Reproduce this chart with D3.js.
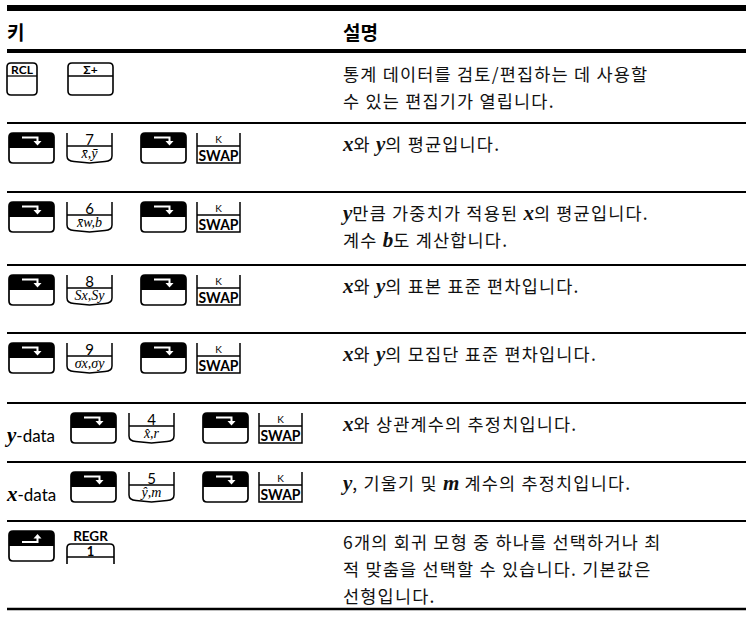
<!DOCTYPE html>
<html>
<head>
<meta charset="utf-8">
<script src="https://cdn.jsdelivr.net/npm/d3@7"></script>
<style>
  html, body { margin: 0; padding: 0; background: #fff; }
  svg { display: block; }
</style>
</head>
<body>
<div id="chart"></div>
<script>
// ---------------- DATA ----------------
const headers = ["키", "설명"];
const rowPrefixes = ["", "", "", "", "", "y-data", "x-data", ""];
const rowKeys = [
  ["RCL", "Σ+"],
  ["shift-right", "7", "shift-right", "SWAP"],
  ["shift-right", "6", "shift-right", "SWAP"],
  ["shift-right", "8", "shift-right", "SWAP"],
  ["shift-right", "9", "shift-right", "SWAP"],
  ["shift-right", "4", "shift-right", "SWAP"],
  ["shift-right", "5", "shift-right", "SWAP"],
  ["shift-left", "REGR"]
];
const numberKeyFunctions = {
  "7": "x̄,ȳ",
  "6": "x̄w,b",
  "8": "Sx,Sy",
  "9": "σx,σy",
  "4": "x̂,r",
  "5": "ŷ,m"
};
const descriptions = [
  ["통계 데이터를 검토/편집하는 데 사용할", "수 있는 편집기가 열립니다."],
  ["*x*와 *y*의 평균입니다."],
  ["*y*만큼 가중치가 적용된 *x*의 평균입니다.", "계수 *b*도 계산합니다."],
  ["*x*와 *y*의 표본 표준 편차입니다."],
  ["*x*와 *y*의 모집단 표준 편차입니다."],
  ["*x*와 상관계수의 추정치입니다."],
  ["*y*, 기울기 및 *m* 계수의 추정치입니다."],
  ["6개의 회귀 모형 중 하나를 선택하거나 최", "적 맞춤을 선택할 수 있습니다. 기본값은", "선형입니다."]
];

// ---------------- LAYOUT ----------------
const W = 746, H = 621;
const left = 7, right = 746, descX = 343;
const rowTops = [53, 123, 192, 265, 333, 403, 462, 521];
const tableBottom = 609;
const lineHeight = 27;
const korFont = "'Noto Sans CJK KR', 'Noto Sans', sans-serif";
const keyFont = "Lato, 'Noto Sans', sans-serif";
const serifFont = "'Liberation Serif', 'DejaVu Serif', serif";

const svg = d3.select("#chart").append("svg")
  .attr("width", W).attr("height", H)
  .attr("viewBox", `0 0 ${W} ${H}`);
svg.append("rect").attr("width", W).attr("height", H).attr("fill", "#fff");

// rules
svg.append("rect").attr("x", left).attr("y", 5).attr("width", right - left).attr("height", 6).attr("fill", "#000");
svg.append("rect").attr("x", left).attr("y", 49).attr("width", right - left).attr("height", 4).attr("fill", "#000");

// header
svg.selectAll("text.header").data(headers).join("text")
  .attr("class", "header")
  .attr("x", (d, i) => i === 0 ? left : descX)
  .attr("y", 40)
  .attr("font-family", korFont)
  .attr("font-weight", "bold")
  .attr("font-size", 19)
  .text(d => d);

// separators
const sepYs = rowTops.slice(1).concat([tableBottom]);
svg.selectAll("line.sep").data(sepYs).join("line")
  .attr("class", "sep")
  .attr("x1", left).attr("x2", right)
  .attr("y1", d => d).attr("y2", d => d)
  .attr("stroke", "#000")
  .attr("stroke-width", (d, i) => i === sepYs.length - 1 ? 2.5 : 2);

// descriptions
descriptions.forEach((lines, r) => {
  lines.forEach((line, li) => {
    const t = svg.append("text")
      .attr("x", descX)
      .attr("y", rowTops[r] + 28 + li * lineHeight)
      .attr("font-family", korFont)
      .attr("font-size", 17.5)
      .attr("letter-spacing", 1.2)
      .attr("fill", "#111");
    line.split("*").forEach((seg, si) => {
      if (!seg) return;
      const ts = t.append("tspan").text(seg);
      if (si % 2 === 1) {
        ts.attr("font-family", serifFont).attr("font-style", "italic")
          .attr("font-weight", "bold").attr("font-size", 21).attr("letter-spacing", 0);
      }
    });
  });
});

// ---------------- KEYS ----------------
function roundedTopPath(x, y, w, h, r) {
  return `M${x},${y + h} V${y + r} Q${x},${y} ${x + r},${y} H${x + w - r} Q${x + w},${y} ${x + w},${y + r} V${y + h} Z`;
}
function roundedRectPath(x, y, w, h, r) {
  return `M${x},${y + r} Q${x},${y} ${x + r},${y} H${x + w - r} Q${x + w},${y} ${x + w},${y + r} V${y + h - r} Q${x + w},${y + h} ${x + w - r},${y + h} H${x + r} Q${x},${y + h} ${x},${y + h - r} Z`;
}

function drawShift(g, x, y, dir) {
  const w = 45, h = 30;
  g.append("path").attr("d", roundedTopPath(x, y, w, 15, 4)).attr("fill", "#000");
  g.append("path").attr("d", roundedRectPath(x, y, w, h, 4))
    .attr("fill", "none").attr("stroke", "#000").attr("stroke-width", 1.7);
  if (dir === "right") {
    g.append("path").attr("d", `M${x + 13},${y + 4.5} H${x + 28.5} V${y + 8.5}`)
      .attr("fill", "none").attr("stroke", "#fff").attr("stroke-width", 2);
    g.append("path").attr("d", `M${x + 24.5},${y + 8} L${x + 32.5},${y + 8} L${x + 28.5},${y + 12.5} Z`).attr("fill", "#fff");
  } else {
    g.append("path").attr("d", `M${x + 13},${y + 11} H${x + 28.5} V${y + 7}`)
      .attr("fill", "none").attr("stroke", "#fff").attr("stroke-width", 2);
    g.append("path").attr("d", `M${x + 24.5},${y + 7.5} L${x + 32.5},${y + 7.5} L${x + 28.5},${y + 3} Z`).attr("fill", "#fff");
  }
  return w;
}

function drawNumber(g, x, y, label) {
  const w = 45, h = 30;
  g.append("path")
    .attr("d", `M${x},${y} V${y + h - 7} Q${x},${y + h - 2} ${x + 7},${y + h - 1.5} L${x + w / 2},${y + h} L${x + w - 7},${y + h - 1.5} Q${x + w},${y + h - 2} ${x + w},${y + h - 7} V${y}`)
    .attr("fill", "none").attr("stroke", "#000").attr("stroke-width", 1.5);
  g.append("line").attr("x1", x).attr("x2", x + w).attr("y1", y + 13).attr("y2", y + 13)
    .attr("stroke", "#000").attr("stroke-width", 1.3);
  g.append("text").attr("x", x + w / 2).attr("y", y + 11.5).attr("text-anchor", "middle")
    .attr("font-family", keyFont).attr("font-size", 15).text(label);
  g.append("text").attr("x", x + w / 2).attr("y", y + 25).attr("text-anchor", "middle")
    .attr("font-family", serifFont).attr("font-size", 14).attr("font-style", "italic")
    .text(numberKeyFunctions[label]);
  return w;
}

function drawSwap(g, x, y) {
  const w = 43, h = 30;
  g.append("path").attr("d", `M${x},${y} V${y + h} H${x + w} V${y}`)
    .attr("fill", "none").attr("stroke", "#000").attr("stroke-width", 1.5);
  g.append("line").attr("x1", x).attr("x2", x + w).attr("y1", y + 13).attr("y2", y + 13)
    .attr("stroke", "#000").attr("stroke-width", 1.5);
  g.append("text").attr("x", x + w / 2).attr("y", y + 10).attr("text-anchor", "middle")
    .attr("font-family", keyFont).attr("font-size", 10).text("K");
  g.append("text").attr("x", x + w / 2).attr("y", y + 27.5).attr("text-anchor", "middle")
    .attr("font-family", keyFont).attr("font-weight", "bold").attr("font-size", 15.5)
    .attr("textLength", w - 3).attr("lengthAdjust", "spacingAndGlyphs").text("SWAP");
  return w;
}

function drawBox(g, x, y, label, w) {
  const h = 32;
  g.append("path").attr("d", roundedRectPath(x, y, w, h, 4))
    .attr("fill", "none").attr("stroke", "#000").attr("stroke-width", 1.6);
  g.append("line").attr("x1", x).attr("x2", x + w).attr("y1", y + 13).attr("y2", y + 13)
    .attr("stroke", "#000").attr("stroke-width", 1.3);
  g.append("text").attr("x", x + w / 2).attr("y", y + 11).attr("text-anchor", "middle")
    .attr("font-family", keyFont).attr("font-weight", "bold").attr("font-size", 12).text(label);
  return w;
}

function drawRegr(g, x, y) {
  const w = 47;
  g.append("text").attr("x", x + w / 2).attr("y", y + 10).attr("text-anchor", "middle")
    .attr("font-family", keyFont).attr("font-size", 13.5).attr("font-weight", "bold").text("REGR");
  g.append("path").attr("d", `M${x},${y + 33} V${y + 17} Q${x},${y + 13} ${x + 4},${y + 13} H${x + w - 4} Q${x + w},${y + 13} ${x + w},${y + 17} V${y + 33}`)
    .attr("fill", "none").attr("stroke", "#000").attr("stroke-width", 1.6);
  g.append("line").attr("x1", x).attr("x2", x + w).attr("y1", y + 26).attr("y2", y + 26)
    .attr("stroke", "#000").attr("stroke-width", 1.4);
  g.append("text").attr("x", x + w / 2).attr("y", y + 24.5).attr("text-anchor", "middle")
    .attr("font-family", keyFont).attr("font-size", 13).attr("font-weight", "bold").text("1");
  return w;
}

// key slot x positions (relative), per row kind
const standardSlots = [9, 67, 141, 197];
rowKeys.forEach((keys, r) => {
  const g = svg.append("g");
  const ky = rowTops[r] + 10;
  const offset = rowPrefixes[r] ? 62 : 0;
  if (rowPrefixes[r]) {
    const t = g.append("text").attr("x", left).attr("y", ky + 29)
      .attr("font-family", keyFont).attr("font-size", 17);
    t.append("tspan").text(rowPrefixes[r].split("-")[0])
      .attr("font-family", serifFont).attr("font-style", "italic").attr("font-weight", "bold").attr("font-size", 21);
    t.append("tspan").text("-" + rowPrefixes[r].split("-")[1]);
  }
  keys.forEach((k, i) => {
    if (k === "RCL") drawBox(g, 7, ky, k, 30);
    else if (k === "Σ+") drawBox(g, 68, ky, k, 45);
    else if (k === "REGR") drawRegr(g, 67, ky);
    else {
      const x = standardSlots[i] + offset;
      if (k === "shift-right") drawShift(g, x, ky, "right");
      else if (k === "shift-left") drawShift(g, x, ky, "left");
      else if (k === "SWAP") drawSwap(g, x, ky);
      else drawNumber(g, x, ky, k);
    }
  });
});
</script>
</body>
</html>
